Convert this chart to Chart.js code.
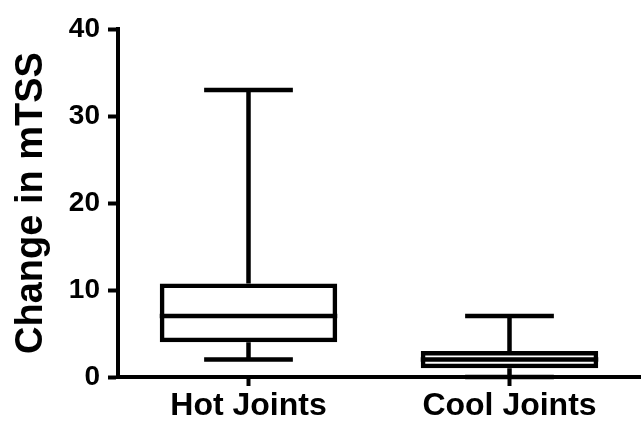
<!DOCTYPE html>
<html>
<head>
<meta charset="utf-8">
<script src="https://cdn.jsdelivr.net/npm/chart.js@4/dist/chart.umd.min.js"></script>
<style>
html,body{margin:0;padding:0;background:#fff;}
#wrap{width:642px;height:424px;}
</style>
</head>
<body>
<div id="wrap"><canvas id="c" width="642" height="424"></canvas></div>
<script>
const categories = ["Hot Joints", "Cool Joints"];
const minValues = [2, 0];
const q1Values = [4, 1];
const medianValues = [7, 2];
const q3Values = [10.75, 3];
const maxValues = [33, 7];
const yTicks = [0, 10, 20, 30, 40];

const LW = 4.5;
const AXW = 4;
const FONT = "'Liberation Sans', Arial, Helvetica, sans-serif";

const boxPlugin = {
  id: 'boxWhiskers',
  afterDatasetsDraw(chart) {
    const ctx = chart.ctx;
    const y = chart.scales.y;
    const meta = chart.getDatasetMeta(0);
    ctx.save();
    ctx.strokeStyle = '#000';
    ctx.lineWidth = LW;
    ctx.lineCap = 'butt';
    meta.data.forEach((bar, i) => {
      const cx = bar.x;
      const w = bar.width;
      const capHalf = w * 0.25;
      const yMin = y.getPixelForValue(minValues[i]);
      const yQ1 = y.getPixelForValue(q1Values[i]);
      const yMed = y.getPixelForValue(medianValues[i]);
      const yQ3 = y.getPixelForValue(q3Values[i]);
      const yMax = y.getPixelForValue(maxValues[i]);
      ctx.beginPath();
      ctx.moveTo(cx, yQ3); ctx.lineTo(cx, yMax);
      ctx.moveTo(cx - capHalf, yMax); ctx.lineTo(cx + capHalf, yMax);
      ctx.moveTo(cx, yQ1); ctx.lineTo(cx, yMin);
      ctx.moveTo(cx - capHalf, yMin); ctx.lineTo(cx + capHalf, yMin);
      ctx.moveTo(cx - w / 2, yMed); ctx.lineTo(cx + w / 2, yMed);
      ctx.stroke();
    });
    ctx.restore();
  }
};

new Chart(document.getElementById('c'), {
  type: 'bar',
  data: {
    labels: categories,
    datasets: [{
      data: categories.map((_, i) => [q1Values[i], q3Values[i]]),
      backgroundColor: 'rgba(255,255,255,0)',
      borderColor: '#000',
      borderWidth: LW,
      borderSkipped: false,
      barPercentage: 0.68,
      categoryPercentage: 1.0
    }]
  },
  options: {
    responsive: false,
    animation: false,
    devicePixelRatio: 1,
    layout: { padding: { top: 29, right: 2, left: 0, bottom: 0 } },
    plugins: { legend: { display: false }, tooltip: { enabled: false } },
    scales: {
      x: {
        type: 'category',
        offset: true,
        grid: { display: true, drawOnChartArea: false, offset: false, drawTicks: true, tickLength: 9, tickWidth: AXW, color: '#000' },
        border: { display: true, color: '#000', width: AXW },
        ticks: { color: '#000', font: { family: FONT, size: 32, weight: 'bold' }, padding: 1, maxRotation: 0 },
        afterFit(s) { s.height = 47; }
      },
      y: {
        min: 0, max: 40,
        afterBuildTicks(s) { s.ticks = yTicks.map(v => ({ value: v })); },
        grid: { display: true, drawOnChartArea: false, drawTicks: true, tickLength: 10, tickWidth: AXW, color: '#000' },
        border: { display: true, color: '#000', width: AXW },
        ticks: { color: '#000', font: { family: FONT, size: 28, weight: 'bold' }, padding: 8 },
        title: { display: true, text: 'Change in mTSS', color: '#000', font: { family: FONT, size: 38, weight: 'bold' }, padding: { top: 9, bottom: 0 } },
        afterFit(s) { s.width = 118; }
      }
    }
  },
  plugins: [boxPlugin]
});
</script>
</body>
</html>
